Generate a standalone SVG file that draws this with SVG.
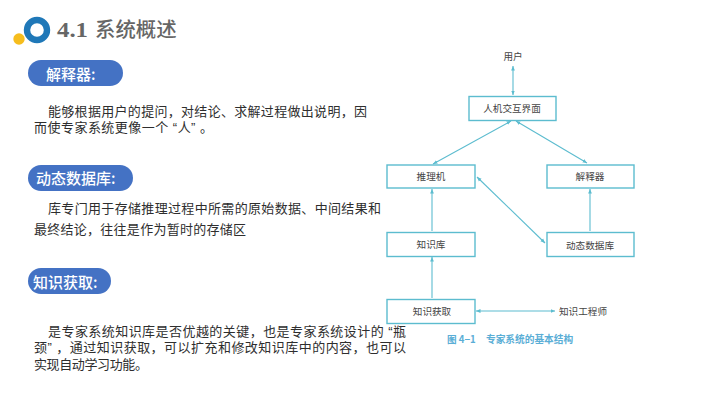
<svg xmlns="http://www.w3.org/2000/svg" width="710" height="400" viewBox="0 0 710 400">
<defs>
<marker id="a" markerWidth="6" markerHeight="6" refX="4.5" refY="2.5" orient="auto-start-reverse" markerUnits="userSpaceOnUse"><path d="M0,0.6 L4.5,2.5 L0,4.4 Z" fill="#5cbccf"/></marker>
</defs>
<style>
text{font-family:"Noto Sans CJK SC","Liberation Sans",sans-serif}
.b{font-size:13px;fill:#2e2e2e;font-family:"Liberation Sans","Noto Sans CJK SC",sans-serif}
.p{fill:#4472c4}
.pt{font-size:15px;fill:#fff;font-weight:500}
.n{fill:#fff;stroke:#5cbccf;stroke-width:1.4}
.nt{font-size:9.6px;fill:#444;text-anchor:middle}
.c{fill:none;stroke:#5cbccf;stroke-width:1.1}
</style>
<rect width="710" height="400" fill="#fff"/>
<g id="logo"><circle cx="37" cy="30" r="10" fill="none" stroke="#1f78b8" stroke-width="6.4"/><circle cx="19" cy="39" r="5.7" fill="#f6bd1d"/></g>
<text x="57" y="37" font-size="21" font-weight="700" fill="#666" textLength="31" lengthAdjust="spacingAndGlyphs" style="font-family:'Liberation Serif',serif">4.1</text>
<text x="95" y="37" font-size="20.4" fill="#666" font-weight="500">系统概述</text>
<g id="pill1"><rect class="p" x="28" y="60" width="95" height="26" rx="13"/><text class="pt" x="46" y="80">解释器:</text></g>
<text class="b" x="48" y="116" textLength="319">能够根据用户的提问，对结论、求解过程做出说明，因</text>
<text class="b" x="34" y="132" textLength="179">而使专家系统更像一个 “人” 。</text>
<g id="pill2"><rect class="p" x="28" y="165" width="105" height="26" rx="13"/><text class="pt" x="36" y="184">动态数据库:</text></g>
<text class="b" x="48" y="213" textLength="333">库专门用于存储推理过程中所需的原始数据、中间结果和</text>
<text class="b" x="34" y="234" textLength="212">最终结论，往往是作为暂时的存储区</text>
<g id="pill3"><rect class="p" x="28" y="268" width="83" height="26" rx="13"/><text class="pt" x="33" y="288">知识获取:</text></g>
<text class="b" x="48" y="336" textLength="358">是专家系统知识库是否优越的关键，也是专家系统设计的 “瓶</text>
<text class="b" x="34" y="352" textLength="372">颈” ，通过知识获取，可以扩充和修改知识库中的内容，也可以</text>
<text class="b" x="34" y="369" textLength="114">实现自动学习功能。</text>
<g id="connectors">
<path class="c" d="M513,95 V66" marker-start="url(#a)" marker-end="url(#a)"/>
<path class="c" d="M511,121 L433,164" marker-start="url(#a)" marker-end="url(#a)"/>
<path class="c" d="M516,121 L587,163" marker-start="url(#a)" marker-end="url(#a)"/>
<path class="c" d="M432,231 V189" marker-end="url(#a)"/>
<path class="c" d="M432,298 V257" marker-end="url(#a)"/>
<path class="c" d="M590,231 V189" marker-end="url(#a)"/>
<path class="c" d="M545,243 L477,177" marker-start="url(#a)" marker-end="url(#a)"/>
<path class="c" d="M476,311 H555" marker-start="url(#a)" marker-end="url(#a)"/>
</g>
<text class="nt" x="513" y="60">用户</text>
<g id="n1"><rect class="n" x="469" y="96.500" width="87" height="24"/><text class="nt" x="512" y="112">人机交互界面</text></g>
<g id="n2"><rect class="n" x="387" y="165" width="88" height="23"/><text class="nt" x="431" y="180">推理机</text></g>
<g id="n3"><rect class="n" x="547" y="165" width="87" height="23"/><text class="nt" x="590" y="180">解释器</text></g>
<g id="n4"><rect class="n" x="387" y="232.500" width="88" height="24"/><text class="nt" x="431" y="248">知识库</text></g>
<g id="n5"><rect class="n" x="547" y="232.500" width="87" height="24"/><text class="nt" x="590" y="249">动态数据库</text></g>
<g id="n6"><rect class="n" x="387" y="299.500" width="88" height="24"/><text class="nt" x="432" y="315">知识获取</text></g>
<text class="nt" x="583" y="315">知识工程师</text>
<text x="447" y="343" font-size="9.600" font-weight="700" fill="#5aaed6">图 4−1</text>
<text x="486" y="343" font-size="9.700" font-weight="700" fill="#5aaed6">专家系统的基本结构</text>
</svg>
